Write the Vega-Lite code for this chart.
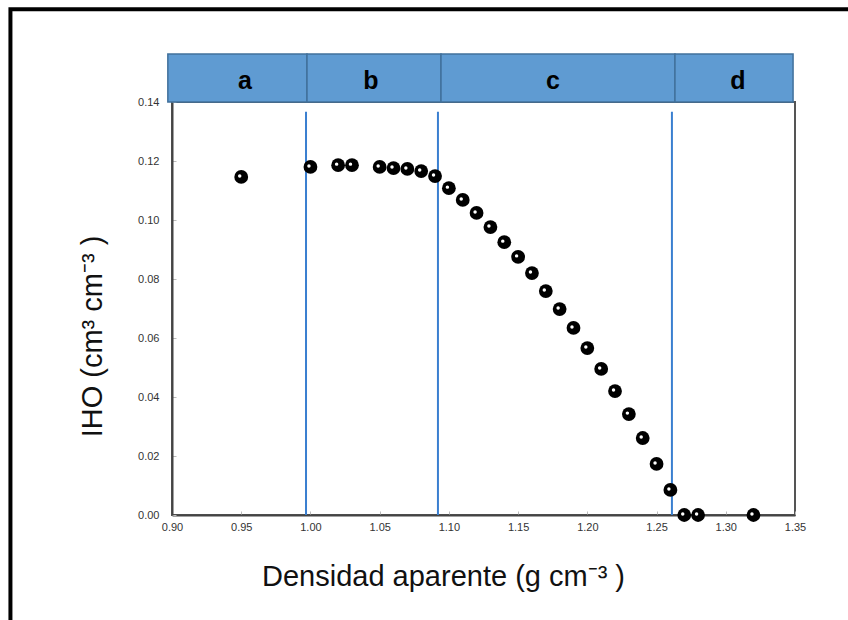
{
  "$schema": "https://vega.github.io/schema/vega-lite/v6.json",
  "width": 623,
  "height": 413,
  "autosize": {"type": "none"},
  "padding": {"left": 172, "top": 102, "right": 53, "bottom": 105},
  "background": "white",
  "config": {
    "view": {"stroke": "#555555", "strokeWidth": 2},
    "font": "Liberation Sans"
  },
  "datasets": {
    "pts": [
      {"d": 0.95, "iho": 0.1146},
      {"d": 1.00, "iho": 0.1180},
      {"d": 1.02, "iho": 0.1186},
      {"d": 1.03, "iho": 0.1186},
      {"d": 1.05, "iho": 0.1180},
      {"d": 1.06, "iho": 0.1176},
      {"d": 1.07, "iho": 0.1173},
      {"d": 1.08, "iho": 0.1166},
      {"d": 1.09, "iho": 0.1149},
      {"d": 1.10, "iho": 0.1108},
      {"d": 1.11, "iho": 0.1068},
      {"d": 1.12, "iho": 0.1024},
      {"d": 1.13, "iho": 0.0976},
      {"d": 1.14, "iho": 0.0925},
      {"d": 1.15, "iho": 0.0875},
      {"d": 1.16, "iho": 0.0820},
      {"d": 1.17, "iho": 0.0759},
      {"d": 1.18, "iho": 0.0698},
      {"d": 1.19, "iho": 0.0634},
      {"d": 1.20, "iho": 0.0566},
      {"d": 1.21, "iho": 0.0495},
      {"d": 1.22, "iho": 0.0420},
      {"d": 1.23, "iho": 0.0342},
      {"d": 1.24, "iho": 0.0261},
      {"d": 1.25, "iho": 0.0173},
      {"d": 1.26, "iho": 0.0085},
      {"d": 1.27, "iho": 0.0},
      {"d": 1.28, "iho": 0.0},
      {"d": 1.32, "iho": 0.0}
    ],
    "zones": [
      {"zone": "a", "x0": 0.897, "x1": 0.9975, "mid": 0.9527},
      {"zone": "b", "x0": 0.9975, "x1": 1.0943, "mid": 1.0437},
      {"zone": "c", "x0": 1.0943, "x1": 1.2633, "mid": 1.1752},
      {"zone": "d", "x0": 1.2633, "x1": 1.3486, "mid": 1.3088}
    ],
    "limits": [
      {"b": 0.9968},
      {"b": 1.0921},
      {"b": 1.2611}
    ]
  },
  "layer": [
    {
      "data": {"name": "limits"},
      "mark": {"type": "rule", "color": "#3a7fd0", "strokeWidth": 2},
      "encoding": {
        "x": {
          "field": "b", "type": "quantitative",
          "scale": {"domain": [0.9, 1.35], "nice": false, "zero": false},
          "axis": {
            "values": [0.90, 0.95, 1.00, 1.05, 1.10, 1.15, 1.20, 1.25, 1.30, 1.35],
            "format": ".2f",
            "grid": false,
            "domainColor": "#444444",
            "domainWidth": 2,
            "tickSize": -4,
            "tickColor": "#bbbbbb",
            "labelFontSize": 11,
            "labelColor": "#333333",
            "labelPadding": 10,
            "labelFlush": false,
            "title": "Densidad aparente (g cm⁻³ )",
            "titleFontSize": 29,
            "titleFontWeight": "normal",
            "titleColor": "#111111",
            "titleX": 271,
            "titleY": 70,
            "titleAnchor": null,
            "titleAlign": "center",
            "titleBaseline": "alphabetic"
          }
        },
        "y": {
          "datum": 0, "type": "quantitative",
          "scale": {"domain": [0, 0.14], "nice": false},
          "axis": {
            "values": [0, 0.02, 0.04, 0.06, 0.08, 0.10, 0.12, 0.14],
            "format": ".2f",
            "grid": false,
            "domainColor": "#444444",
            "domainWidth": 2,
            "tickSize": -4,
            "tickColor": "#bbbbbb",
            "labelFontSize": 11,
            "labelColor": "#333333",
            "labelPadding": 17,
            "labelFlush": false,
            "title": "IHO (cm³ cm⁻³ )",
            "titleFontSize": 29,
            "titleFontWeight": "normal",
            "titleColor": "#111111",
            "titleX": -80,
            "titleY": 234,
            "titleAnchor": null,
            "titleAlign": "center",
            "titleBaseline": "middle",
            "titleAngle": -90
          }
        },
        "y2": {"datum": 0.1367}
      }
    },
    {
      "data": {"name": "zones"},
      "mark": {"type": "rect", "fill": "#5f9bd2", "stroke": "#41719c", "strokeWidth": 1.5},
      "encoding": {
        "x": {"field": "x0", "type": "quantitative"},
        "x2": {"field": "x1"},
        "y": {"datum": 0.14, "type": "quantitative"},
        "y2": {"datum": 0.1563}
      }
    },
    {
      "data": {"name": "zones"},
      "mark": {"type": "text", "fontSize": 25, "fontWeight": "bold", "color": "#000000", "baseline": "middle", "align": "center"},
      "encoding": {
        "x": {"field": "mid", "type": "quantitative"},
        "y": {"datum": 0.1471, "type": "quantitative"},
        "text": {"field": "zone"}
      }
    },
    {
      "data": {"name": "pts"},
      "mark": {"type": "point", "shape": "circle", "filled": true, "color": "#000000", "size": 190, "opacity": 1},
      "encoding": {
        "x": {"field": "d", "type": "quantitative"},
        "y": {"field": "iho", "type": "quantitative"}
      }
    },
    {
      "data": {"name": "pts"},
      "mark": {"type": "point", "shape": "circle", "filled": true, "color": "#ffffff", "size": 12, "opacity": 1, "xOffset": -1.5, "yOffset": -1},
      "encoding": {
        "x": {"field": "d", "type": "quantitative"},
        "y": {"field": "iho", "type": "quantitative"}
      }
    },
    {
      "data": {"values": [{}]},
      "mark": {"type": "rect", "fill": null, "fillOpacity": 0, "stroke": "#000000", "strokeWidth": 4},
      "encoding": {
        "x": {"datum": 0.7833, "type": "quantitative"},
        "x2": {"datum": 1.6},
        "y": {"datum": -0.1, "type": "quantitative"},
        "y2": {"datum": 0.1714}
      }
    }
  ]
}
